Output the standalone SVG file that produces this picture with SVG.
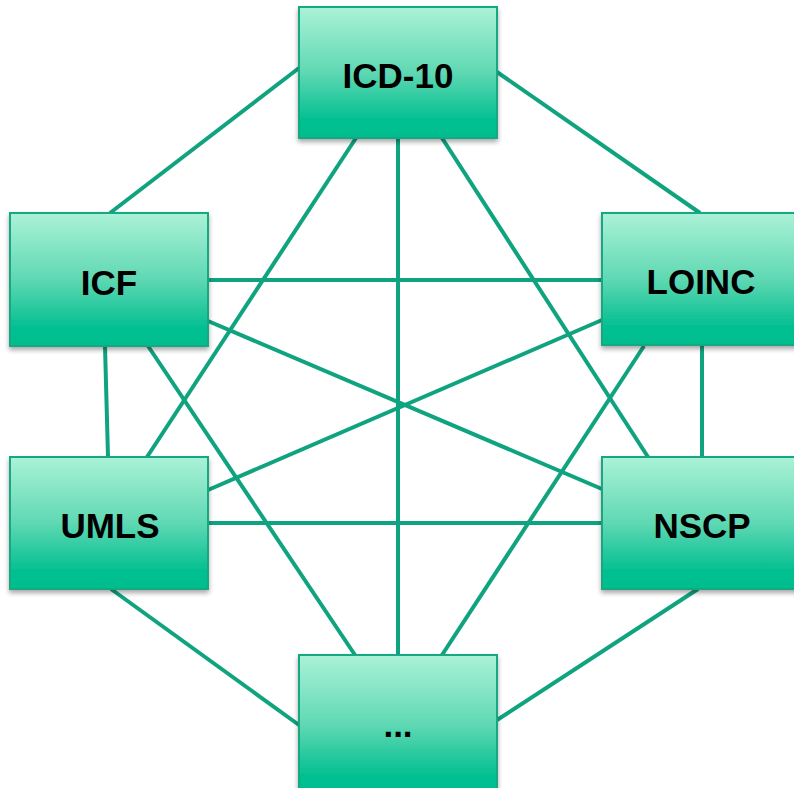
<svg xmlns="http://www.w3.org/2000/svg" width="794" height="788" viewBox="0 0 794 788">
<style>
.box{fill:url(#g);stroke:#16a882;stroke-width:2;filter:url(#sh)}
.lbl{font-family:"Liberation Sans",Arial,sans-serif;font-weight:bold;font-size:35px;fill:#000;text-anchor:middle}
#connectors line{stroke:#0fa37f;stroke-width:4;stroke-linecap:butt}
</style>
<defs>
<linearGradient id="g" x1="0" y1="0" x2="0" y2="1">
<stop offset="0" stop-color="#abf2d7"/>
<stop offset="0.5" stop-color="#5fd8b3"/>
<stop offset="0.85" stop-color="#06c092"/>
<stop offset="1" stop-color="#00bd8d"/>
</linearGradient>
<filter id="sh" x="-10%" y="-10%" width="120%" height="125%">
<feGaussianBlur in="SourceAlpha" stdDeviation="2.5"/>
<feOffset dx="0" dy="3" result="b"/>
<feComponentTransfer><feFuncA type="linear" slope="0.35"/></feComponentTransfer>
<feMerge><feMergeNode/><feMergeNode in="SourceGraphic"/></feMerge>
</filter>
</defs>
<rect width="794" height="788" fill="#fff"/>
<g id="connectors">
<line x1="299" y1="68" x2="110" y2="213"/>
<line x1="497" y1="72" x2="700" y2="213"/>
<line x1="356" y1="138" x2="147" y2="457"/>
<line x1="398" y1="138" x2="398" y2="655"/>
<line x1="442" y1="138" x2="648" y2="457"/>
<line x1="208" y1="280" x2="602" y2="280"/>
<line x1="208" y1="321" x2="602" y2="489"/>
<line x1="105" y1="346" x2="108" y2="457"/>
<line x1="148" y1="346" x2="355" y2="655"/>
<line x1="602" y1="320" x2="208" y2="490"/>
<line x1="644" y1="346" x2="442" y2="655"/>
<line x1="702" y1="346" x2="702" y2="457"/>
<line x1="208" y1="523" x2="602" y2="523"/>
<line x1="111" y1="589" x2="299" y2="725"/>
<line x1="698" y1="589" x2="497" y2="720"/>
</g>
<g id="icd10"><rect class="box" x="299" y="7" width="198" height="131"/><text class="lbl" x="398" y="88">ICD-10</text></g>
<g id="icf"><rect class="box" x="10" y="213" width="198" height="133"/><text class="lbl" x="109" y="295">ICF</text></g>
<g id="loinc"><rect class="box" x="602" y="213" width="198" height="132"/><text class="lbl" x="701" y="294">LOINC</text></g>
<g id="umls"><rect class="box" x="10" y="457" width="198" height="132"/><text class="lbl" x="110" y="538">UMLS</text></g>
<g id="nscp"><rect class="box" x="602" y="457" width="198" height="132"/><text class="lbl" x="702" y="538">NSCP</text></g>
<g id="more"><rect class="box" x="299" y="655" width="198" height="140"/><text class="lbl" x="398" y="737">...</text></g>
</svg>
